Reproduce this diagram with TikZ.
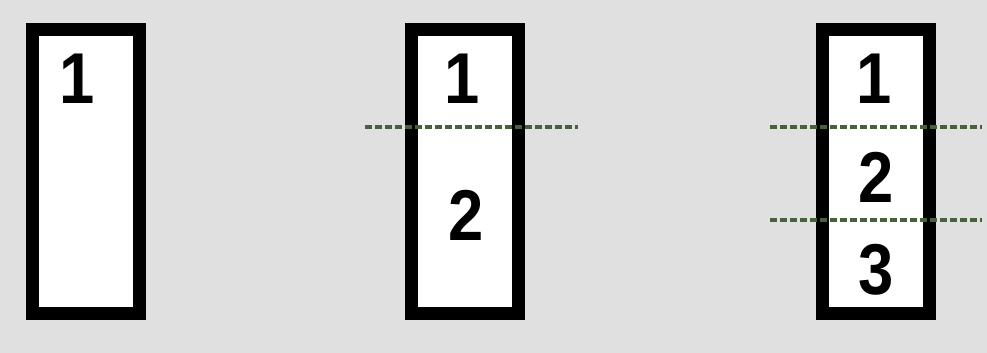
\documentclass[tikz,border=0pt]{standalone}
\usepackage{fontspec}
\setmainfont{Liberation Sans}
\newfontfamily\numfont[FakeStretch=0.88]{Liberation Sans}
\usetikzlibrary{positioning}
\definecolor{bggray}{RGB}{224,224,224}
\definecolor{cutgreen}{RGB}{72,96,60}
\tikzset{
  pagebox/.style={draw, line width=6.5pt, fill=white,
    minimum width=53.5pt, minimum height=142pt, inner sep=0pt},
  pagenum/.style={font=\numfont\fontsize{36}{36}\selectfont\bfseries, inner sep=0pt},
  cutline/.style={dashed, dash pattern=on 3.5pt off 1.5pt, line width=2pt, color=cutgreen},
}

\begin{document}
\begin{tikzpicture}[x=0.5pt, y=-0.5pt]
  % ---- background ----
  \fill[bggray] (0,0) rectangle (987,353);
  \useasboundingbox (0,0) rectangle (987,353);

  % ---- one part ----
  \node[pagebox] at (86,171.5) (P1) {};
  \node[pagenum] at (77,79) (P1a) {1};

  % ---- two parts ----
  \node[pagebox] at (465,171.5) (P2) {};
  \node[pagenum] at (462,79)  (P2a) {1};
  \node[pagenum] at (466,215) (P2b) {2};

  % ---- three parts ----
  \node[pagebox] at (875.5,171.5) (P3) {};
  \node[pagenum] at (874,79)  (P3a) {1};
  \node[pagenum] at (876,177) (P3b) {2};
  \node[pagenum] at (876,270) (P3c) {3};

  % ---- cut lines ----
  \coordinate (C2l) at (365,127);
  \coordinate (C2r) at (578,127);
  \coordinate (C3l) at (770,127);
  \coordinate (C3r) at (982,127);
  \coordinate (C4l) at (770,220);
  \coordinate (C4r) at (982,220);
  \draw[cutline] (C2l) -- (C2r);
  \draw[cutline] (C3l) -- (C3r);
  \draw[cutline] (C4l) -- (C4r);
\end{tikzpicture}
\end{document}
